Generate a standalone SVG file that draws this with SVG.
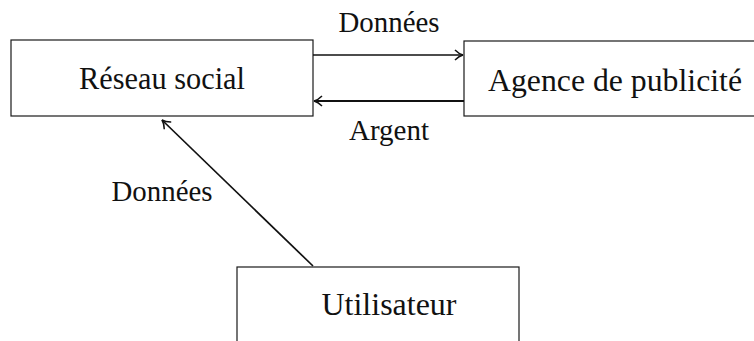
<svg xmlns="http://www.w3.org/2000/svg" width="754" height="341" viewBox="0 0 754 341">
  <style>
    .box { fill: #ffffff; stroke: #1a1a1a; stroke-width: 1.2; }
    .lbl { font-family: "Liberation Serif", "Times New Roman", serif; fill: #111111; }
    .node { font-size: 31px; }
    .edge { font-size: 29px; }
    .wire { fill: none; stroke: #111111; stroke-width: 1.7; marker-end: url(#head); }
  </style>
  <defs>
    <marker id="head" viewBox="0 0 10 12" refX="9" refY="6" markerWidth="10" markerHeight="12" markerUnits="userSpaceOnUse" orient="auto">
      <path d="M1,1 Q5,5 9,6 Q5,7 1,11" fill="none" stroke="#111111" stroke-width="1.5"/>
    </marker>
  </defs>
  <rect width="754" height="341" fill="#ffffff"/>

  <g id="reseau-social">
    <rect class="box" x="11" y="40" width="302" height="76"/>
    <text class="lbl node" x="162" y="89" text-anchor="middle" textLength="166" lengthAdjust="spacingAndGlyphs">Réseau social</text>
  </g>

  <g id="agence-publicite">
    <rect class="box" x="464" y="41" width="310" height="75"/>
    <text class="lbl node" x="615" y="91" text-anchor="middle" textLength="254" lengthAdjust="spacingAndGlyphs">Agence de publicité</text>
  </g>

  <g id="utilisateur">
    <rect class="box" x="237" y="267" width="282" height="90"/>
    <text class="lbl node" x="389" y="315" text-anchor="middle" textLength="135" lengthAdjust="spacingAndGlyphs">Utilisateur</text>
  </g>

  <g id="connectors">
    <line class="wire" x1="313" y1="55" x2="463" y2="55"/>
    <line class="wire" x1="464" y1="101" x2="314" y2="101" style="stroke-width:2"/>
    <line class="wire" x1="313" y1="266" x2="162" y2="120"/>
    <text class="lbl edge" x="389" y="32" text-anchor="middle" textLength="101" lengthAdjust="spacingAndGlyphs">Données</text>
    <text class="lbl edge" x="389" y="140" text-anchor="middle" textLength="80" lengthAdjust="spacingAndGlyphs">Argent</text>
    <text class="lbl edge" x="162" y="201" text-anchor="middle" textLength="101" lengthAdjust="spacingAndGlyphs">Données</text>
  </g>
</svg>
